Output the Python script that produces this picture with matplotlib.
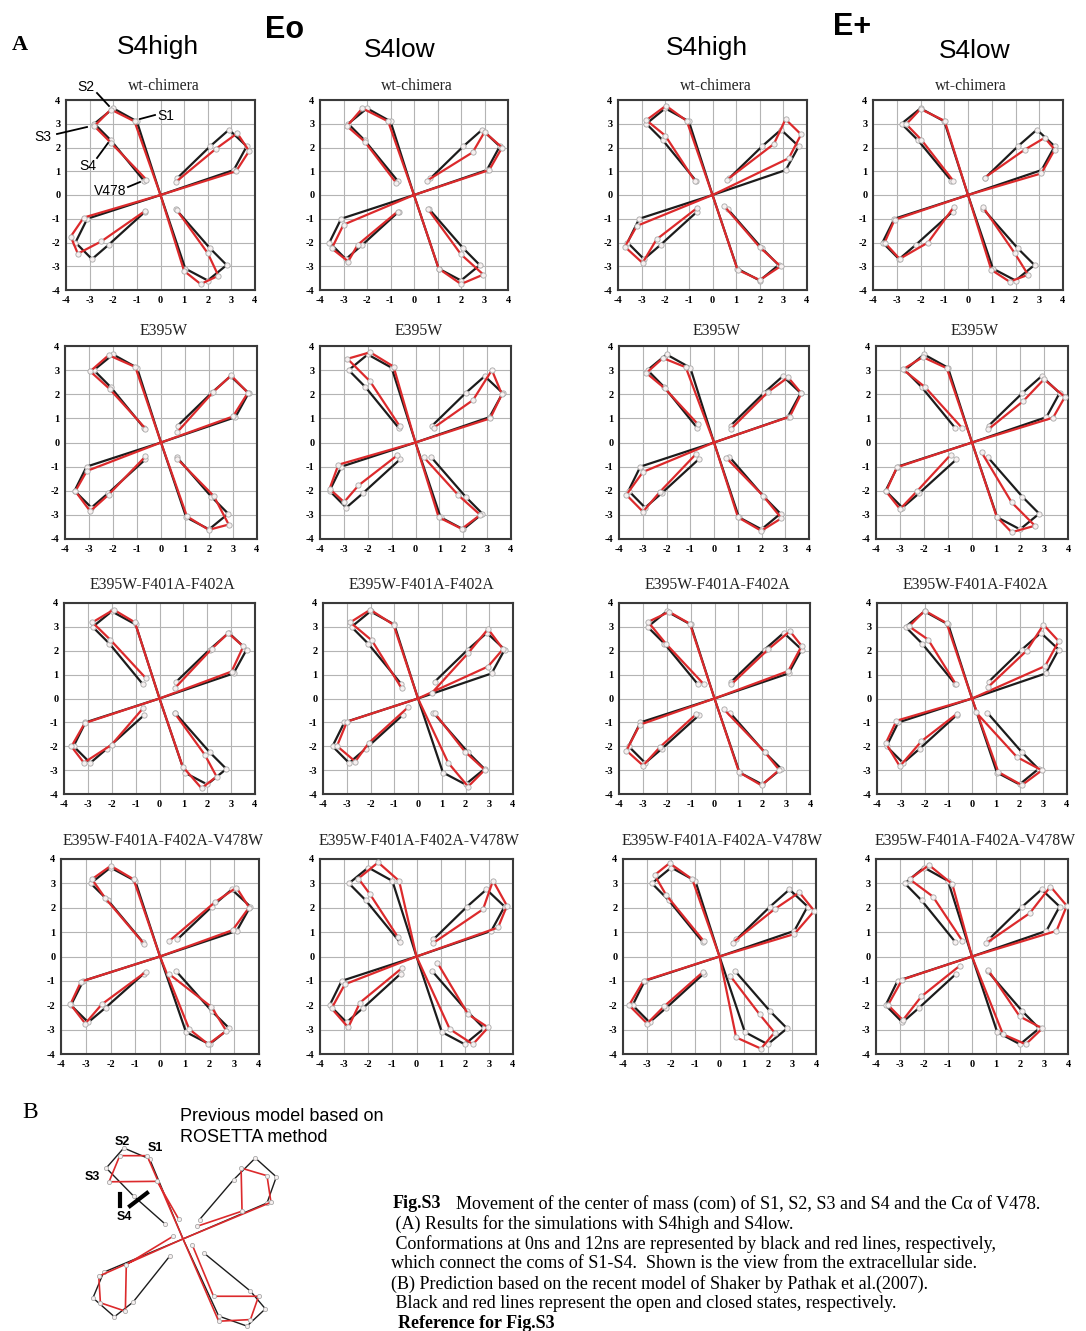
import matplotlib
matplotlib.use("Agg")
import matplotlib.pyplot as plt
from matplotlib.lines import Line2D

plt.rcParams["axes.unicode_minus"] = False

W, H = 1086, 1331

# arm order: upper-left, upper-right, lower-right, lower-left
# point order in each arm: V478, S4, S3, S2, S1 (then the line runs to the center)
center = (0.0, 0.0)

black_arms = [
    [(-0.7, 0.6), (-2.1, 2.3), (-2.8, 3.0), (-2.0, 3.65), (-1.0, 3.1)],
    [(0.7, 0.7), (2.1, 2.05), (2.9, 2.75), (3.65, 2.05), (3.1, 1.05)],
    [(0.65, -0.6), (2.1, -2.25), (2.8, -2.95), (2.0, -3.6), (1.05, -3.1)],
    [(-0.65, -0.7), (-2.2, -2.1), (-2.9, -2.7), (-3.6, -2.0), (-3.1, -1.0)],
]

red_wt_high_eo = [
    [(-0.6, 0.65), (-2.1, 2.2), (-2.8, 2.9), (-2.1, 3.6), (-1.1, 3.1)],
    [(0.65, 0.55), (2.35, 1.95), (3.25, 2.6), (3.75, 1.85), (3.2, 1.0)],
    [(0.7, -0.65), (2.0, -2.45), (2.45, -3.4), (1.7, -3.75), (1.0, -3.2)],
    [(-0.65, -0.67), (-2.5, -1.95), (-3.5, -2.47), (-3.8, -1.75), (-3.25, -0.95)],
]
red_wt_low_eo = [
    [(-0.75, 0.5), (-2.1, 2.25), (-2.85, 2.9), (-2.2, 3.65), (-1.1, 3.1)],
    [(0.55, 0.6), (2.5, 1.8), (3.0, 2.65), (3.75, 2.0), (3.2, 1.05)],
    [(0.6, -0.6), (2.0, -2.5), (2.95, -3.35), (2.0, -3.75), (1.05, -3.1)],
    [(-0.7, -0.7), (-2.4, -2.1), (-2.8, -2.8), (-3.5, -2.25), (-3.0, -1.25)],
]
red_wt_high_ep = [
    [(-0.74, 0.58), (-2.0, 2.5), (-2.8, 3.15), (-1.97, 3.76), (-1.09, 3.12)],
    [(0.6, 0.63), (2.6, 2.15), (3.09, 3.19), (3.75, 2.55), (3.23, 1.55)],
    [(0.5, -0.47), (2.0, -2.2), (2.88, -3.0), (2.0, -3.58), (1.06, -3.15)],
    [(-0.67, -0.56), (-2.37, -1.87), (-2.96, -2.86), (-3.71, -2.18), (-3.2, -1.3)],
]
red_wt_low_ep = [
    [(-0.63, 0.61), (-1.96, 2.32), (-2.6, 2.98), (-2.0, 3.62), (-0.98, 3.12)],
    [(0.7, 0.73), (2.39, 1.91), (3.23, 2.41), (3.65, 1.91), (3.09, 0.91)],
    [(0.63, -0.51), (1.96, -2.44), (2.53, -3.36), (1.75, -3.65), (0.98, -3.15)],
    [(-0.6, -0.51), (-1.68, -2.0), (-2.88, -2.69), (-3.51, -2.0), (-3.09, -1.04)],
]
red_e395w_high_eo = [
    [(-0.65, 0.58), (-2.14, 2.22), (-2.95, 2.95), (-2.18, 3.62), (-1.07, 3.13)],
    [(0.67, 0.42), (2.17, 2.09), (2.92, 2.78), (3.62, 2.06), (3.0, 1.08)],
    [(0.67, -0.67), (2.2, -2.22), (2.82, -3.4), (1.99, -3.62), (1.08, -3.06)],
    [(-0.65, -0.58), (-2.18, -2.16), (-2.95, -2.85), (-3.57, -2.02), (-3.09, -1.18)],
]
red_e395w_low_eo = [
    [(-0.67, 0.69), (-1.9, 2.53), (-2.85, 3.47), (-1.9, 3.74), (-0.92, 3.15)],
    [(0.76, 0.61), (2.41, 1.76), (3.2, 3.0), (3.62, 2.0), (3.13, 1.0)],
    [(0.34, -0.6), (1.8, -2.19), (2.71, -3.0), (1.94, -3.58), (0.97, -3.1)],
    [(-0.76, -0.53), (-2.39, -1.78), (-2.99, -2.47), (-3.6, -1.92), (-3.23, -0.92)],
]
red_e395w_high_ep = [
    [(-0.67, 0.75), (-2.08, 2.25), (-2.85, 2.88), (-2.15, 3.5), (-1.19, 3.12)],
    [(0.73, 0.58), (2.27, 2.09), (3.12, 2.7), (3.68, 2.04), (3.19, 1.07)],
    [(0.52, -0.64), (2.06, -2.2), (2.84, -3.14), (1.99, -3.66), (1.01, -3.1)],
    [(-0.74, -0.46), (-2.29, -2.06), (-2.99, -2.87), (-3.69, -2.17), (-2.99, -1.22)],
]
red_e395w_low_ep = [
    [(-0.43, 0.62), (-1.96, 2.3), (-2.88, 3.03), (-2.05, 3.54), (-1.05, 3.08)],
    [(0.68, 0.55), (2.14, 1.72), (3.0, 2.62), (3.87, 1.89), (3.38, 1.03)],
    [(0.4, -0.41), (1.65, -2.48), (2.62, -3.45), (1.65, -3.72), (1.03, -3.08)],
    [(-0.89, -0.51), (-2.3, -2.03), (-3.0, -2.76), (-3.58, -2.03), (-3.13, -1.03)],
]
red_triple_high_eo = [
    [(-0.57, 0.85), (-2.06, 2.46), (-2.81, 3.19), (-1.92, 3.72), (-1.03, 3.19)],
    [(0.64, 0.43), (2.18, 2.07), (2.88, 2.74), (3.51, 2.18), (3.02, 1.13)],
    [(0.64, -0.62), (1.9, -2.36), (2.39, -3.27), (1.76, -3.76), (0.97, -2.85)],
    [(-0.69, -0.41), (-2.01, -1.94), (-3.17, -2.69), (-3.69, -2.01), (-3.13, -1.03)],
]
red_triple_low_eo = [
    [(-0.69, 0.43), (-1.94, 2.43), (-2.85, 3.19), (-2.01, 3.72), (-1.03, 3.09)],
    [(0.57, 0.22), (2.11, 1.9), (2.95, 2.91), (3.58, 2.07), (2.95, 1.34)],
    [(0.71, -0.62), (1.97, -2.22), (2.81, -2.99), (2.11, -3.69), (1.27, -2.69)],
    [(-0.41, -0.36), (-2.08, -1.87), (-2.64, -2.64), (-3.41, -1.99), (-2.99, -0.97)],
]
red_triple_high_ep = [
    [(-0.45, 0.6), (-2.04, 2.3), (-2.78, 3.21), (-1.9, 3.63), (-1.03, 3.13)],
    [(0.71, 0.6), (2.25, 2.06), (3.16, 2.82), (3.65, 2.2), (3.09, 1.15)],
    [(0.39, -0.45), (2.11, -2.25), (2.71, -2.99), (1.97, -3.64), (1.03, -3.09)],
    [(-0.76, -0.65), (-2.29, -2.04), (-2.99, -2.81), (-3.69, -2.18), (-3.13, -1.1)],
]
red_triple_low_ep = [
    [(-0.68, 0.6), (-1.85, 2.47), (-2.65, 3.02), (-1.99, 3.68), (-1.07, 3.16)],
    [(0.69, 0.49), (2.31, 2.01), (3.01, 3.09), (3.65, 2.4), (3.08, 1.36)],
    [(0.17, -0.58), (1.89, -2.45), (2.94, -3.01), (2.1, -3.63), (1.11, -3.08)],
    [(-0.65, -0.65), (-2.13, -1.79), (-3.04, -2.84), (-3.63, -1.87), (-3.18, -0.93)],
]
red_quad_high_eo = [
    [(-0.64, 0.51), (-2.21, 2.39), (-2.75, 3.17), (-1.99, 3.72), (-1.07, 3.17)],
    [(0.38, 0.64), (2.21, 2.22), (3.09, 2.83), (3.6, 2.01), (2.93, 1.08)],
    [(0.38, -0.73), (2.08, -2.07), (2.68, -3.05), (1.95, -3.6), (1.18, -2.98)],
    [(-0.56, -0.62), (-2.35, -1.96), (-3.02, -2.75), (-3.62, -1.96), (-3.19, -1.03)],
]
red_quad_low_eo = [
    [(-0.76, 0.78), (-1.93, 2.56), (-2.41, 3.2), (-1.59, 3.86), (-0.72, 3.1)],
    [(0.69, 0.55), (2.76, 1.94), (3.17, 3.11), (3.75, 2.08), (3.38, 1.19)],
    [(0.86, -0.25), (2.14, -2.37), (2.97, -2.91), (2.34, -3.6), (1.38, -2.98)],
    [(-0.62, -0.49), (-2.34, -1.89), (-2.83, -2.91), (-3.52, -2.13), (-2.97, -1.14)],
]
red_quad_high_ep = [
    [(-0.66, 0.64), (-2.21, 2.52), (-2.69, 3.34), (-2.07, 3.83), (-1.13, 3.17)],
    [(0.55, 0.57), (2.28, 1.94), (3.31, 2.63), (3.93, 1.87), (3.1, 0.92)],
    [(0.44, -0.79), (1.66, -2.37), (2.28, -3.12), (1.72, -3.78), (0.69, -3.32)],
    [(-0.7, -0.65), (-2.3, -2.05), (-3.0, -2.75), (-3.75, -2.0), (-3.15, -1.0)],
]
red_quad_low_ep = [
    [(-0.4, 0.64), (-1.63, 2.46), (-2.6, 3.17), (-1.79, 3.75), (-0.82, 2.97)],
    [(0.6, 0.55), (2.41, 1.78), (3.27, 2.87), (3.95, 2.08), (3.52, 1.05)],
    [(0.67, -0.55), (1.99, -2.46), (2.93, -2.95), (2.24, -3.6), (1.29, -3.19)],
    [(-0.51, -0.38), (-2.11, -1.64), (-2.88, -2.61), (-3.5, -1.99), (-2.91, -0.95)],
]

panel_titles = ["wt-chimera", "E395W", "E395W-F401A-F402A", "E395W-F401A-F402A-V478W"]
column_heads = ["S4high", "S4low", "S4high", "S4low"]
group_heads = ["Eo", "E+"]
red_rows = [
    [red_wt_high_eo, red_wt_low_eo, red_wt_high_ep, red_wt_low_ep],
    [red_e395w_high_eo, red_e395w_low_eo, red_e395w_high_ep, red_e395w_low_ep],
    [red_triple_high_eo, red_triple_low_eo, red_triple_high_ep, red_triple_low_ep],
    [red_quad_high_eo, red_quad_low_eo, red_quad_high_ep, red_quad_low_ep],
]
ticks = [-4, -3, -2, -1, 0, 1, 2, 3, 4]

# panel B: previous ROSETTA model (open = black, closed = red)
rosetta_open = [
    [(-0.79, 0.66), (-2.11, 1.83), (-3.29, 3.04), (-2.54, 3.9), (-1.43, 3.43)],
    [(0.71, 0.83), (2.17, 2.54), (3.1, 3.47), (4.0, 2.66), (3.6, 1.54)],
    [(0.89, -0.6), (2.89, -2.24), (3.53, -3.0), (2.74, -3.74), (1.53, -3.31)],
    [(-0.57, -0.74), (-2.14, -2.71), (-2.94, -3.34), (-3.86, -2.53), (-3.4, -1.43)],
]
rosetta_closed = [
    [(-0.19, 0.86), (-1.11, 2.47), (-3.17, 2.45), (-2.71, 3.57), (-1.54, 3.57)],
    [(0.6, 0.54), (2.53, 1.19), (2.49, 3.04), (3.6, 2.71), (3.77, 1.57)],
    [(0.39, -0.24), (1.31, -2.46), (3.24, -2.46), (2.89, -3.46), (1.53, -3.53)],
    [(-0.43, 0.11), (-2.43, -1.1), (-2.47, -3.1), (-3.54, -2.74), (-3.61, -1.6)],
]

caption_lines = [
    " (A) Results for the simulations with S4high and S4low.",
    " Conformations at 0ns and 12ns are represented by black and red lines, respectively,",
    "which connect the coms of S1-S4.  Shown is the view from the extracellular side.",
    "(B) Prediction based on the recent model of Shaker by Pathak et al.(2007).",
    " Black and red lines represent the open and closed states, respectively.",
]

# layout, in pixels of the reference picture
col_x = [
    [(66, 255), (320, 508), (618, 807), (873, 1063)],
    [(65, 257), (320, 511), (619, 809), (876, 1068)],
    [(64, 255), (323, 513), (619, 810), (877, 1067)],
    [(61, 259), (320, 513), (623, 816), (876, 1068)],
]
row_y = [(100, 290), (346, 539), (603, 794), (859, 1054)]
title_y = [86, 331, 585, 841]

SERIF = ["Liberation Serif", "DejaVu Serif"]
SANS = ["Liberation Sans", "DejaVu Sans"]
BLACK = "#1c1c1c"
RED = "#dc2a2c"


def fx(x):
    return x / W


def fy(y):
    return 1 - y / H


def draw_arms(ax, arms, color, lw=1.6, ms=3.8, z=3):
    for arm in arms:
        xs = [p[0] for p in arm] + [center[0]]
        ys = [p[1] for p in arm] + [center[1]]
        ax.plot(xs, ys, color=color, lw=lw, solid_joinstyle="round", zorder=z)
        ax.plot(xs[:-1], ys[:-1], "o", ms=ms, mfc="#f6f0f0", mec="#a8a8a8",
                mew=0.6, zorder=z + 0.5)


fig = plt.figure(figsize=(W / 100, H / 100), dpi=100)

for r in range(4):
    for c in range(4):
        x0, x1 = col_x[r][c]
        y0, y1 = row_y[r]
        ax = fig.add_axes([fx(x0), fy(y1), (x1 - x0) / W, (y1 - y0) / H])
        ax.set_xlim(-4, 4)
        ax.set_ylim(-4, 4)
        ax.set_xticks(ticks)
        ax.set_yticks(ticks)
        ax.grid(True, color="#b4b4b4", lw=0.8)
        ax.set_axisbelow(True)
        ax.tick_params(length=0, pad=4, labelsize=7.5)
        for lab in ax.get_xticklabels() + ax.get_yticklabels():
            lab.set_family(SERIF)
            lab.set_fontweight("bold")
        for sp in ax.spines.values():
            sp.set_color("#3a3a3a")
            sp.set_linewidth(1.5)
        draw_arms(ax, black_arms, BLACK, z=3)
        draw_arms(ax, red_rows[r][c], RED, z=4)
        fig.text(fx((x0 + x1) / 2 + 3), fy(title_y[r]), panel_titles[r],
                 family=SERIF, fontsize=11.3, ha="center", va="center", color="#222222")

# headings
head_x = [158, 400, 707, 975]
head_y = [47, 50, 48, 51]
for name, hx, hy in zip(column_heads, head_x, head_y):
    fig.text(fx(hx), fy(hy), name, family=SANS, fontsize=19, ha="center", va="center")
fig.text(fx(285), fy(30), group_heads[0], family=SANS, fontsize=22, fontweight="bold",
         ha="center", va="center")
fig.text(fx(852), fy(27), group_heads[1], family=SANS, fontsize=22, fontweight="bold",
         ha="center", va="center")
fig.text(fx(20), fy(45), "A", family=SERIF, fontsize=16, fontweight="bold",
         ha="center", va="center")

# labels in the first panel
labels_a = [("S2", 86, 87, (97, 93), (109, 106)),
            ("S1", 166, 116, (155, 115), (140, 119)),
            ("S3", 43, 137, (57, 134), (87, 127)),
            ("S4", 88, 166, (97, 158), (108, 143)),
            ("V478", 110, 191, (128, 187), (140, 182))]
for txt, tx, ty, p0, p1 in labels_a:
    fig.text(fx(tx), fy(ty), txt, family=SANS, fontsize=10, ha="center", va="center")
    fig.add_artist(Line2D([fx(p0[0]), fx(p1[0])], [fy(p0[1]), fy(p1[1])],
                          color="black", lw=1.3))

# panel B
fig.text(fx(30), fy(1113), "B", family=SERIF, fontsize=17, ha="center", va="center")
fig.text(fx(180), fy(1127), "Previous model based on\nROSETTA method", family=SANS,
         fontsize=13, ha="left", va="center", linespacing=1.25)
axb = fig.add_axes([fx(78), fy(1331), 210 / W, 197 / H])
axb.set_xlim(-4.5, 4.5)
axb.set_ylim(-3.95, 4.5)
axb.axis("off")
draw_arms(axb, rosetta_open, BLACK, lw=1.0, ms=3.0, z=3)
draw_arms(axb, rosetta_closed, RED, lw=1.2, ms=3.0, z=4)
for txt, tx, ty in [("S2", 122, 1142), ("S1", 155, 1148), ("S3", 92, 1177), ("S4", 124, 1217)]:
    fig.text(fx(tx), fy(ty), txt, family=SANS, fontsize=9, fontweight="bold",
             ha="center", va="center")
fig.add_artist(Line2D([fx(120), fx(120)], [fy(1194), fy(1206)], color="black", lw=3))
fig.add_artist(Line2D([fx(130), fx(147)], [fy(1206), fy(1193)], color="black", lw=3))

# caption
cap_y = [1204, 1224, 1244, 1264, 1284, 1303]
CAP = 13.0
fig.text(fx(393), fy(cap_y[0]), "Fig.S3", family=SERIF, fontsize=CAP, fontweight="bold",
         ha="left", va="center")
fig.text(fx(456), fy(cap_y[0]),
         "Movement of the center of mass (com) of S1, S2, S3 and S4 and the C\u03b1 of V478.",
         family=SERIF, fontsize=CAP, ha="left", va="center")
for line, ly in zip(caption_lines, cap_y[1:]):
    fig.text(fx(391), fy(ly), line, family=SERIF, fontsize=CAP, ha="left", va="center")
fig.text(fx(398), fy(1323), "Reference for Fig.S3", family=SERIF, fontsize=CAP,
         fontweight="bold", ha="left", va="center")

fig.savefig("out.png", dpi=100)
